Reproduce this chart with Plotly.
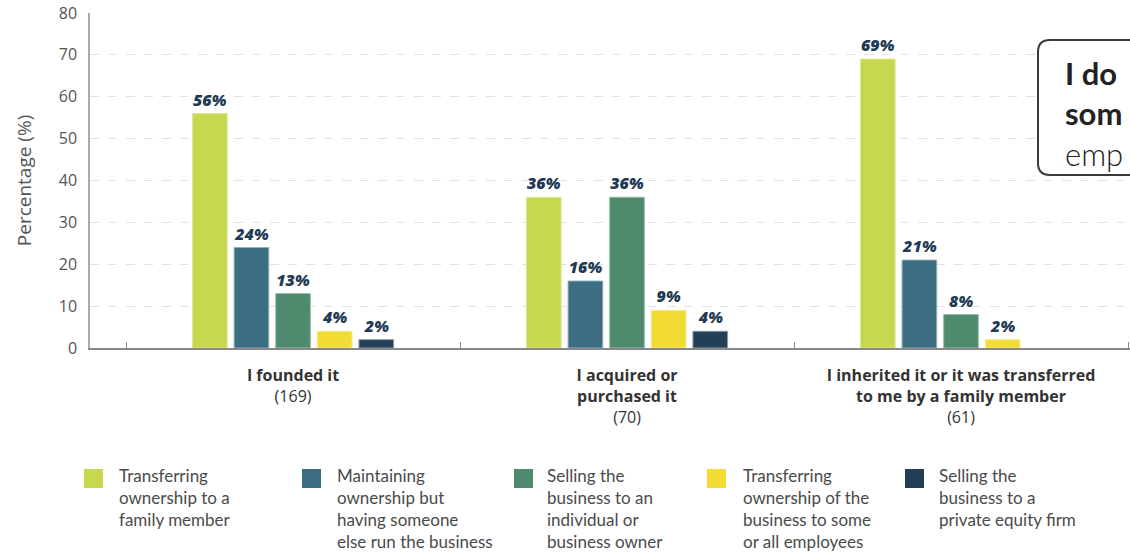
import plotly.graph_objects as go

categories = ["I founded it", "I acquired or purchased it",
              "I inherited it or it was transferred to me by a family member"]
cat_ticktext = ["<b>I founded it</b><br>(169)",
                "<b>I acquired or<br>purchased it</b><br>(70)",
                "<b>I inherited it or it was transferred<br>to me by a family member</b><br>(61)"]
series_names = ["Transferring ownership to a family member",
                "Maintaining ownership but having someone else run the business",
                "Selling the business to an individual or business owner",
                "Transferring ownership of the business to some or all employees",
                "Selling the business to a private equity firm"]
legend_text = ["Transferring<br>ownership to a<br>family member",
               "Maintaining<br>ownership but<br>having someone<br>else run the business",
               "Selling the<br>business to an<br>individual or<br>business owner",
               "Transferring<br>ownership of the<br>business to some<br>or all employees",
               "Selling the<br>business to a<br>private equity firm"]
callout_text = "<b>I do</b><br><b>som</b><br><span style='font-weight:300'>emp</span>"
values = [
    [56, 36, 69],
    [24, 16, 21],
    [13, 36, 8],
    [4, 9, 2],
    [2, 4, None],
]
colors = ["#C8D84E", "#3C6D82", "#4E8A6E", "#F3DB35", "#213F55"]
outline_colors = ["#DDE69A", "#8FB0BE", "#98BFAC", "#F8EA94", "#8A9CAA"]

W, H = 1130, 553
L, R, T, B = 90, 0, 13, 205
pw = W - L - R
ph = H - T - B

def px(x):
    return (x - L) / pw

def py(y):
    return (H - B - y) / ph

fig = go.Figure()
for name, vals, col, oc in zip(series_names, values, colors, outline_colors):
    fig.add_trace(go.Bar(
        x=categories, y=vals, name=name,
        marker=dict(color=col, line=dict(width=1, color=oc)),
        text=[f"{v}%" if v is not None else "" for v in vals],
        textposition="outside",
        textfont=dict(family="Open Sans", size=16, color="#1E3A55", weight=800, style="italic"),
        cliponaxis=False,
        showlegend=False,
    ))

# legend built from squares and annotations
leg_sq_x = [84, 302, 514, 707, 905]
leg_tx_x = [117, 335, 545, 741, 937]
shapes = []
annotations = []
for i in range(5):
    shapes.append(dict(type="rect", xref="paper", yref="paper",
                       x0=px(leg_sq_x[i]), x1=px(leg_sq_x[i] + 19),
                       y0=py(488), y1=py(469),
                       fillcolor=colors[i], line=dict(width=0)))
    annotations.append(dict(xref="paper", yref="paper", x=px(leg_tx_x[i]), y=py(463),
                            xanchor="left", yanchor="top", align="left", showarrow=False,
                            text=legend_text[i],
                            font=dict(family="Lato", size=17, color="#4A4A4A")))

# callout box on the right (clipped at page edge)
x0, x1, y0, y1, r = px(1038), px(1400), py(40), py(175), 12
rx, ry = r / pw, r / ph
path = (f"M {x0+rx},{y0} L {x1},{y0} L {x1},{y1} L {x0+rx},{y1} "
        f"Q {x0},{y1} {x0},{y1+ry} L {x0},{y0-ry} Q {x0},{y0} {x0+rx},{y0} Z")
shapes.append(dict(type="path", xref="paper", yref="paper", path=path,
                   fillcolor="white", line=dict(color="#3A3A3A", width=2), layer="above"))
annotations.append(dict(xref="paper", yref="paper", x=px(1063), y=py(52),
                        xanchor="left", yanchor="top", align="left", showarrow=False,
                        text=callout_text,
                        font=dict(family="Lato", size=31, color="#222222")))

fig.update_layout(
    width=W, height=H,
    margin=dict(l=L, r=R, t=T, b=B),
    paper_bgcolor="white", plot_bgcolor="white",
    barmode="group", bargap=0.377, bargroupgap=0.167,
    font=dict(family="Open Sans", color="#444444"),
    shapes=shapes, annotations=annotations,
    xaxis=dict(
        range=[-0.608, 2.506],
        tickmode="array", tickvals=categories, ticktext=cat_ticktext,
        tickfont=dict(family="Open Sans", size=16, color="#333333"),
        ticklabelstandoff=12,
        showline=True, linecolor="#888888", linewidth=2,
        ticks="inside", tickson="boundaries", ticklen=6, tickcolor="#888888",
        showgrid=False,
    ),
    yaxis=dict(
        range=[0, 80], dtick=10,
        title=dict(text="Percentage (%)", font=dict(family="Open Sans", size=19, color="#555555"), standoff=22),
        tickfont=dict(family="Open Sans", size=16, color="#555555"),
        ticklabelstandoff=8,
        showline=True, linecolor="#AAAAAA", linewidth=1.5,
        showgrid=True, gridcolor="#E2E2E2", griddash="dash", gridwidth=1,
        zeroline=False,
    ),
)

fig.write_html("out.html")
